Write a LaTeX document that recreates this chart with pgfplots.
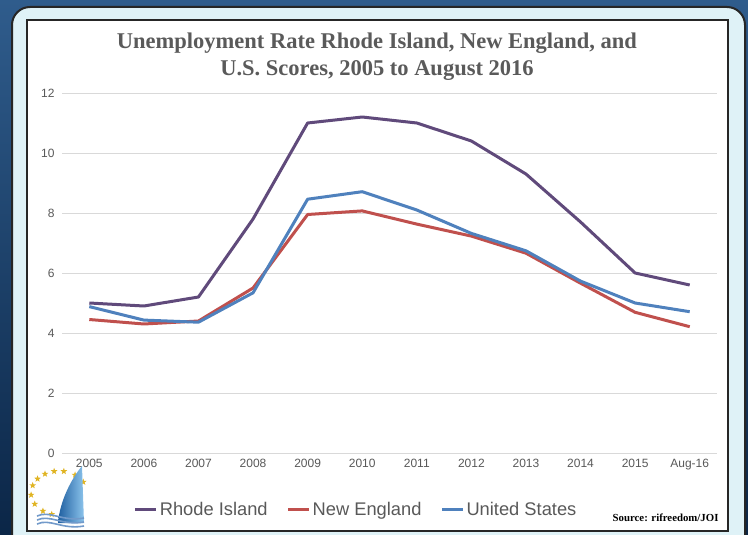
\documentclass[border=0pt]{standalone}
\usepackage{fontspec}
\setmainfont{Liberation Sans}
\newfontfamily\titlefont{Liberation Serif}
\usepackage{pgfplots}
\pgfplotsset{compat=1.18}
\usetikzlibrary{shapes.geometric}

\definecolor{bgtop}{HTML}{2F5C8C}
\definecolor{bgbot}{HTML}{0B2647}
\definecolor{panel}{HTML}{DFF2F7}
\definecolor{frame}{HTML}{262626}
\definecolor{txtgray}{HTML}{595959}
\definecolor{titlegray}{HTML}{5A5A5A}
\definecolor{gridgray}{HTML}{D9D9D9}
\definecolor{riC}{HTML}{604A7B}
\definecolor{neC}{HTML}{C0504D}
\definecolor{usC}{HTML}{4F81BD}
\definecolor{starC}{HTML}{E0B422}
\definecolor{sailA}{HTML}{1F5FA0}
\definecolor{sailB}{HTML}{8CC4EC}

\begin{document}
\begin{tikzpicture}[x=1pt,y=1pt]
\path[use as bounding box] (0,0) rectangle (748,-535);
\begin{scope}
\clip (0,0) rectangle (748,-535);
\shade[top color=bgtop, bottom color=bgbot] (0,0) rectangle (748,-535);
\draw[fill=panel, draw=frame, line width=2, rounded corners=18] (12,-7) rectangle (745,-560);
\draw[fill=white, draw=frame, line width=1.5] (27,-20) rectangle (728,-531);
\end{scope}

\node[font=\titlefont\bfseries\fontsize{22.5}{27}\selectfont, text=titlegray, align=center] at (377,-57)
  {Unemployment Rate Rhode Island, New England, and\\U.S. Scores, 2005 to August 2016};

\begin{axis}[
    at={(62pt,-453pt)}, anchor=south west,
    width=655pt, height=360pt, scale only axis,
    xmin=-0.5, xmax=11.5, ymin=0, ymax=12,
    xtick={0,...,11},
    xticklabels={2005,2006,2007,2008,2009,2010,2011,2012,2013,2014,2015,Aug-16},
    ytick={0,2,...,12},
    /pgf/number format/assume math mode=true,
    axis line style={draw=none},
    major tick length=0pt,
    ymajorgrids,
    grid style={gridgray, line width=0.9pt},
    tick label style={font=\fontsize{12}{14}\selectfont, text=txtgray},
    yticklabel style={xshift=-4pt},
    xticklabel style={yshift=-3pt},
    legend columns=3,
    legend style={at={(0.449,-0.158)}, anchor=center, draw=none, fill=none,
        font=\fontsize{18.3}{21}\selectfont, text=txtgray,
        /tikz/every even column/.append style={column sep=17pt},
        nodes={inner xsep=2pt}},
    legend image code/.code={\draw[#1, line width=3pt] (0pt,0pt) -- (21pt,0pt);},
    every axis plot/.append style={line width=3pt, line join=round},
]
\addplot[riC] coordinates {(0,5.0) (1,4.9) (2,5.2) (3,7.8) (4,11.0) (5,11.2) (6,11.0) (7,10.4) (8,9.3) (9,7.7) (10,6.0) (11,5.6)};
\addlegendentry{Rhode Island}
\addplot[neC] coordinates {(0,4.45) (1,4.3) (2,4.4) (3,5.5) (4,7.95) (5,8.07) (6,7.63) (7,7.23) (8,6.66) (9,5.66) (10,4.69) (11,4.21)};
\addlegendentry{New England}
\addplot[usC] coordinates {(0,4.88) (1,4.43) (2,4.36) (3,5.34) (4,8.46) (5,8.71) (6,8.1) (7,7.32) (8,6.74) (9,5.73) (10,5.0) (11,4.71)};
\addlegendentry{United States}
\end{axis}

\node[anchor=east, font=\titlefont\bfseries\fontsize{10.8}{12}\selectfont, text=black] at (722,-518) {Source: rifreedom/JOI};

% logo
\foreach \a in {30,55,80,100,120,140,160,185,210,235,255}
  \node[star, star points=5, star point ratio=2.4, fill=starC, minimum size=7pt, inner sep=0pt] at ({59+28*cos(\a)},{-493+22*sin(\a)}) {};
\shade[left color=sailA, right color=sailB] (58,-523) .. controls (60,-500) and (72,-478) .. (82,-466) -- (84,-523) -- cycle;
\foreach \dy in {0,4,8}
  \draw[usC!80!white, line width=1.6pt] (37,{-516-\dy}) .. controls (50,{-510-\dy}) and (62,{-522-\dy}) .. (84,{-518-\dy});
\end{tikzpicture}
\end{document}
